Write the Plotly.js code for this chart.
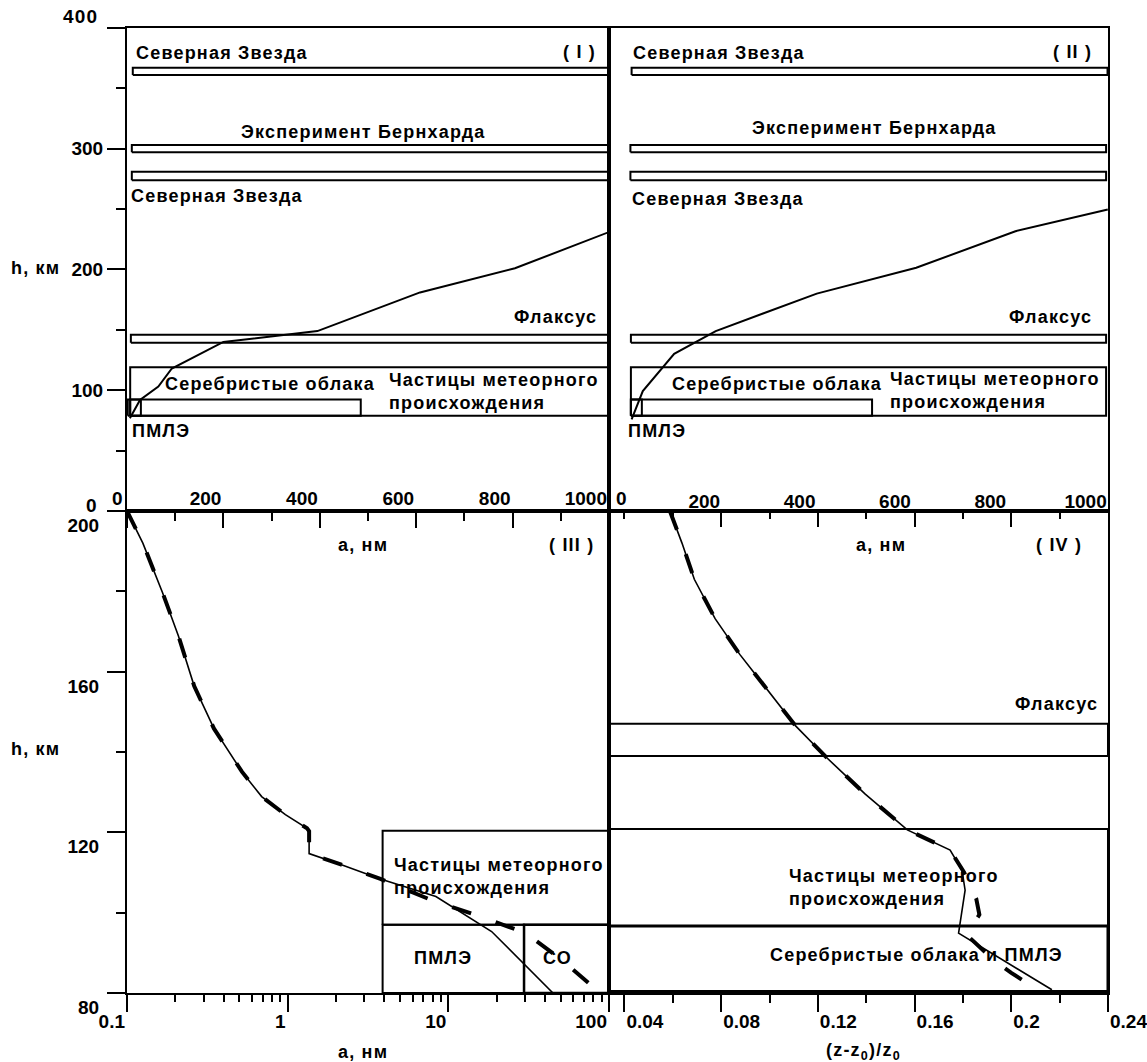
<!DOCTYPE html>
<html><head><meta charset="utf-8">
<script src="https://cdn.plot.ly/plotly-3.0.1.min.js"></script>
<style>
body{margin:0;background:#fff}
#chart{width:1147px;height:1062px}
.annotation-text{letter-spacing:1.2px}
</style></head><body><div id="chart"></div>
<script>
// ---------- DATA ----------
// Panel I : a (nm) vs h (km)
const p1A = [6, 27, 65, 93, 200, 330, 395, 608, 805, 1000];
const p1H = [76.8, 92, 103, 118, 140, 146, 149, 181, 201, 231];
// Panel II
const p2A = [47.5, 71, 136.8, 224, 436, 644.6, 852.8, 1046.5];
const p2H = [75.9, 99.3, 130.2, 149, 180, 201.4, 231.7, 249.7];
// Experiment / phenomenon altitude bands (top panels)
const bandNames = ['Северная Звезда', 'Эксперимент Бернхарда', 'Северная Звезда', 'Флаксус', 'Частицы метеорного происхождения', 'Серебристые облака', 'ПМЛЭ'];
const bandLow  = [361, 297, 274, 139.3, 78.8, 78.8, 78.8];
const bandHigh = [367, 303, 281, 146, 119, 92.4, 92.4];
const p1BandA0 = [12, 10, 10, 8, 6.6, 6.6, 1.6];
const p1BandA1 = [1000, 1000, 1000, 998, 1000, 485, 28.8];
const p2BandA0 = [47.5, 45, 45, 46, 46, 46, 46];
const p2BandA1 = [1046, 1043, 1043, 1043, 1043, 552, 69];
// Panel III : a (nm, log) vs h (km)
const p3A = [0.1, 0.1255, 0.1667, 0.209, 0.262, 0.348, 0.519, 0.689, 0.968, 1.32, 1.36, 1.36, 2.14, 3.78, 8.37, 18.6, 44.8];
const p3H = [200, 192, 179.6, 168.9, 156.4, 145.8, 135.1, 128.9, 124.4, 121, 120.3, 114.7, 112, 108.4, 104, 95.3, 80];
const p3DashA = [0.1, 0.1255, 0.1667, 0.209, 0.262, 0.348, 0.519, 0.689, 0.968, 1.32, 1.36, 1.36, 2.14, 3.78, 8, 16, 30, 50, 88];
const p3DashH = [200, 192, 179.6, 168.9, 156.4, 145.8, 135.1, 128.9, 124.4, 121, 120.3, 114.7, 112, 108.4, 103, 99, 95, 88.5, 80];
const p3BoxNames = ['Частицы метеорного происхождения', 'ПМЛЭ', 'СО'];
const p3BoxA0 = [3.9, 3.9, 29.6];
const p3BoxA1 = [100, 29.6, 100];
const p3BoxH0 = [97, 80, 80];
const p3BoxH1 = [120.4, 97, 97];
// Panel IV : (z-z0)/z0 vs h (km)
const p4Z = [0.0588, 0.0638, 0.0689, 0.0775, 0.0877, 0.0992, 0.1108, 0.1238, 0.1396, 0.157, 0.1747, 0.1796, 0.1809, 0.1782, 0.2168];
const p4H = [200, 192, 183, 173.2, 164.3, 155.4, 146.5, 138.5, 129.5, 120.6, 115.6, 110.6, 105.6, 94.9, 80.8];
const p4DashZ = [0.0588, 0.0638, 0.0689, 0.0775, 0.0877, 0.0992, 0.1108, 0.1238, 0.1396, 0.157, 0.1747, 0.1805, 0.1855, 0.1868, 0.1815, 0.193, 0.2, 0.213];
const p4DashH = [200, 192, 183, 173.2, 164.3, 155.4, 146.5, 138.5, 129.5, 120.6, 115.6, 110, 103.5, 99.5, 94.5, 88, 85, 80];
const p4BandNames = ['Флаксус', 'Частицы метеорного происхождения', 'Серебристые облака и ПМЛЭ'];
const p4BandH0 = [139, 96.7, 80.4];
const p4BandH1 = [147, 120.8, 96.7];
// Tick labels
const topATicks = [0, 200, 400, 600, 800, 1000];
const topHTicks = [0, 100, 200, 300, 400];
const logATicks = [0.1, 1, 10, 100];
const botHTicks = [80, 120, 160, 200];
const zTicks = [0.04, 0.08, 0.12, 0.16, 0.2, 0.24];
const zTickText = ['0.04', '0.08', '0.12', '0.16', '0.2', '0.24'];
const zMinorTicks = [0.06, 0.10, 0.14, 0.18, 0.22];

// ---------- LAYOUT CONSTANTS ----------
const XS = 0.4913, YS = 0.4995;
const Z_RANGE = [0.0336, 0.24];
const FONT = 'Liberation Sans, Arial, sans-serif';
const tf = {family: FONT, size: 18, color: '#000', weight: 700};
const tkf = {family: FONT, size: 19, color: '#000', weight: 700};
const K = '#000';

function rect(x0, x1, y0, y1, xa, ya, w) {
  return {type: 'scatter', mode: 'lines', x: [x0, x1, x1, x0, x0], y: [y0, y0, y1, y1, y0],
    xaxis: xa, yaxis: ya, line: {color: K, width: w || 2}, hoverinfo: 'skip', showlegend: false};
}
function curve(x, y, xa, ya, w, dash) {
  return {type: 'scatter', mode: 'lines', x: x, y: y, xaxis: xa, yaxis: ya,
    line: {color: K, width: w, dash: dash || 'solid'}, hoverinfo: 'skip', showlegend: false};
}

const traces = [];
for (let i = 0; i < bandNames.length; i++) {
  traces.push(rect(p1BandA0[i], p1BandA1[i], bandLow[i], bandHigh[i], 'x', 'y', 2));
  traces.push(rect(p2BandA0[i], p2BandA1[i], bandLow[i], bandHigh[i], 'x2', 'y2', 2));
}
traces.push(curve(p1A, p1H, 'x', 'y', 2));
traces.push(curve(p2A, p2H, 'x2', 'y2', 2));
for (let i = 0; i < p3BoxNames.length; i++) {
  traces.push(rect(p3BoxA0[i], p3BoxA1[i], p3BoxH0[i], p3BoxH1[i], 'x3', 'y3', i === 2 ? 2.5 : 2));
}
traces.push(curve(p3A, p3H, 'x3', 'y3', 1.6));
traces.push(curve(p3DashA, p3DashH, 'x3', 'y3', 4, '20px,26px'));
for (let i = 0; i < p4BandNames.length; i++) {
  traces.push(rect(Z_RANGE[0], Z_RANGE[1], p4BandH0[i], p4BandH1[i], 'x4', 'y4', i === 2 ? 3 : 2));
}
traces.push(curve(p4Z, p4H, 'x4', 'y4', 1.6));
// dashed curve drawn on the free top axis x5 (same domain and range as x4)
traces.push(curve(p4DashZ, p4DashH, 'x5', 'y4', 4, '20px,26px'));

const baseAx = {showline: true, mirror: true, linewidth: 2, linecolor: K, showgrid: false, zeroline: false,
  tickwidth: 2, tickcolor: K, tickfont: tkf, fixedrange: true};

const layout = {
  width: 1147, height: 1062,
  margin: {l: 127, r: 39, t: 28, b: 69},
  paper_bgcolor: '#fff', plot_bgcolor: 'rgba(0,0,0,0)',
  showlegend: false,
  font: {family: FONT, color: K},
  xaxis: Object.assign({}, baseAx, {domain: [0, XS], range: [0, 1000], anchor: 'y',
    ticks: 'outside', ticklen: 15, tickmode: 'array', tickvals: topATicks, ticktext: topATicks.map(String),
    ticklabelposition: 'inside left',
    minor: {tickmode: 'array', tickvals: [100, 300, 500, 700, 900], ticks: 'outside', ticklen: 8, tickwidth: 2, tickcolor: K}}),
  yaxis: Object.assign({}, baseAx, {domain: [YS, 1], range: [0, 400], anchor: 'x',
    ticks: 'outside', ticklen: 18, tickmode: 'array', tickvals: topHTicks,
    ticktext: topHTicks.map(v => (v === 0 || v === 400) ? '' : String(v)),
    minor: {tickmode: 'array', tickvals: [50, 150, 250, 350], ticks: 'outside', ticklen: 9, tickwidth: 2, tickcolor: K}}),
  xaxis2: Object.assign({}, baseAx, {domain: [XS, 1], range: [0, 1047], anchor: 'y2',
    ticks: '', tickmode: 'array', tickvals: topATicks.slice(1), ticktext: topATicks.slice(1).map(String),
    ticklabelposition: 'inside'}),
  yaxis2: Object.assign({}, baseAx, {domain: [YS, 1], range: [0, 400], anchor: 'x2', ticks: '', showticklabels: false}),
  xaxis3: Object.assign({}, baseAx, {domain: [0, XS], type: 'log', range: [-1, 2], anchor: 'y3',
    ticks: 'outside', ticklen: 17, tickmode: 'array', tickvals: logATicks, ticktext: ['0.1', '1', '10', '100'],
    ticklabelposition: 'outside left', ticklabelstandoff: 10,
    minor: {tickmode: 'array', tickvals: [0.2,0.3,0.4,0.5,0.6,0.7,0.8,0.9,2,3,4,5,6,7,8,9,20,30,40,50,60,70,80,90],
      ticks: 'outside', ticklen: 7, tickwidth: 2, tickcolor: K}}),
  yaxis3: Object.assign({}, baseAx, {domain: [0, YS], range: [80, 200], anchor: 'x3',
    ticks: 'outside', ticklen: 18, tickmode: 'array', tickvals: botHTicks, ticktext: botHTicks.map(String),
    ticklabelposition: 'outside bottom', ticklabelstandoff: 22,
    minor: {tickmode: 'array', tickvals: [100, 140, 180], ticks: 'outside', ticklen: 9, tickwidth: 2, tickcolor: K}}),
  xaxis4: Object.assign({}, baseAx, {domain: [XS, 1], range: Z_RANGE, anchor: 'y4',
    ticks: 'outside', ticklen: 17, tickmode: 'array', tickvals: zTicks, ticktext: zTickText,
    ticklabelposition: 'outside right', ticklabelstandoff: 10, ticklabeloverflow: 'allow',
    minor: {tickmode: 'array', tickvals: zMinorTicks, ticks: 'outside', ticklen: 8, tickwidth: 2, tickcolor: K}}),
  yaxis4: Object.assign({}, baseAx, {domain: [0, YS], range: [80, 200], anchor: 'x4', ticks: '', showticklabels: false}),
  xaxis5: {domain: [XS, 1], anchor: 'free', position: YS, side: 'top', range: Z_RANGE,
    showline: false, showgrid: false, zeroline: false,
    ticks: 'inside', ticklen: 15, tickwidth: 2, tickcolor: K, tickmode: 'array', tickvals: zTicks.slice(1, 5),
    showticklabels: false, fixedrange: true,
    minor: {tickmode: 'array', tickvals: [zTicks[0]].concat(zMinorTicks), ticks: 'inside', ticklen: 7, tickwidth: 2, tickcolor: K}},
  annotations: []
};

function ann(text, x, y, xref, yref, xanchor, extra) {
  return Object.assign({text: text, x: x, y: y, xref: xref, yref: yref, xanchor: xanchor || 'center', yanchor: 'middle',
    showarrow: false, font: tf, align: 'left'}, extra || {});
}
const A = layout.annotations;
// Panel I
A.push(ann(bandNames[0], 14, 379, 'x', 'y', 'left'));
A.push(ann(bandNames[1], 491, 314, 'x', 'y', 'center'));
A.push(ann(bandNames[2], 5, 260.7, 'x', 'y', 'left'));
A.push(ann(bandNames[3], 980, 161, 'x', 'y', 'right'));
A.push(ann('Частицы метеорного<br>происхождения', 539, 98.6, 'x', 'y', 'left'));
A.push(ann(bandNames[5], 75, 104.8, 'x', 'y', 'left'));
A.push(ann(bandNames[6], 6, 66, 'x', 'y', 'left'));
// Panel II
A.push(ann(bandNames[0], 47, 379, 'x2', 'y2', 'left'));
A.push(ann(bandNames[1], 557, 317, 'x2', 'y2', 'center'));
A.push(ann(bandNames[2], 45, 258, 'x2', 'y2', 'left'));
A.push(ann(bandNames[3], 1017, 161, 'x2', 'y2', 'right'));
A.push(ann('Частицы метеорного<br>происхождения', 586, 100, 'x2', 'y2', 'left'));
A.push(ann(bandNames[5], 129, 105, 'x2', 'y2', 'left'));
A.push(ann(bandNames[6], 35.6, 66, 'x2', 'y2', 'left'));
// Panel III (log axis: annotation x in log10 units)
A.push(ann('Частицы метеорного<br>происхождения', Math.log10(4.47), 109, 'x3', 'y3', 'left'));
A.push(ann(p3BoxNames[1], 0.968, 88.6, 'x3', 'y3', 'center'));
A.push(ann(p3BoxNames[2], 1.679, 88.6, 'x3', 'y3', 'center'));
// Panel IV
A.push(ann(p4BandNames[0], 0.2365, 152, 'x4', 'y4', 'right'));
A.push(ann('Частицы метеорного<br>происхождения', 0.1072, 106.3, 'x4', 'y4', 'left'));
A.push(ann(p4BandNames[2], 0.161, 89.5, 'x4', 'y4', 'center'));
// Panel labels
A.push(ann('( I )', 0.4608, 0.975, 'paper', 'paper', 'center'));
A.push(ann('( II )', 0.964, 0.975, 'paper', 'paper', 'center'));
A.push(ann('a, нм', 0.2406, 0.4642, 'paper', 'paper', 'center'));
A.push(ann('( III )', 0.4526, 0.4642, 'paper', 'paper', 'center'));
A.push(ann('a, нм', 0.769, 0.4642, 'paper', 'paper', 'center'));
A.push(ann('( IV )', 0.9499, 0.4642, 'paper', 'paper', 'center'));
// Axis titles
A.push(ann('a, нм', 0.2406, -0.0611, 'paper', 'paper', 'center'));
A.push(ann('(z-z<sub>0</sub>)/z<sub>0</sub>', 0.751, -0.0611, 'paper', 'paper', 'center'));
A.push(ann('h, км', -0.0928, 0.7513, 'paper', 'paper', 'center'));
A.push(ann('h, км', -0.0928, 0.2528, 'paper', 'paper', 'center'));
// End tick labels drawn offset like the original
const tickAnn = {font: tkf};
A.push(ann('400', -0.028, 1.0114, 'paper', 'paper', 'right', tickAnn));
A.push(ann('0', -0.028, 0.5047, 'paper', 'paper', 'right', tickAnn));
A.push(ann('0', -0.001, 0.5125, 'paper', 'paper', 'right', tickAnn));
A.push(ann('0', XS + 0.005, 0.5125, 'paper', 'paper', 'left', tickAnn));

Plotly.newPlot('chart', traces, layout, {staticPlot: true, displayModeBar: false});
</script></body></html>
